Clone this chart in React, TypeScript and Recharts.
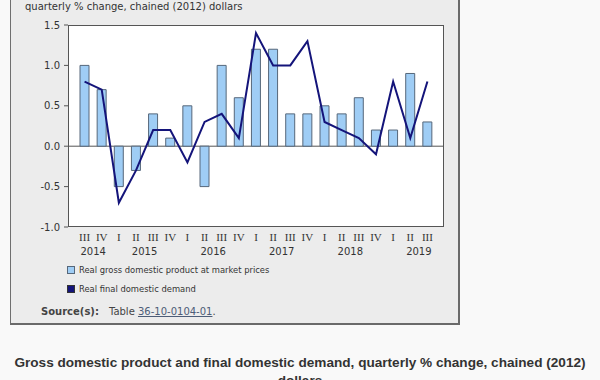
import React from 'react';
import { ComposedChart, Bar, Line, XAxis, YAxis, CartesianGrid } from 'recharts';

const quarters = ['III', 'IV', 'I', 'II', 'III', 'IV', 'I', 'II', 'III', 'IV', 'I', 'II', 'III', 'IV', 'I', 'II', 'III', 'IV', 'I', 'II', 'III'];
const years = ['2014', '2014', '2015', '2015', '2015', '2015', '2016', '2016', '2016', '2016', '2017', '2017', '2017', '2017', '2018', '2018', '2018', '2018', '2019', '2019', '2019'];
const gdp = [1.0, 0.7, -0.5, -0.3, 0.4, 0.1, 0.5, -0.5, 1.0, 0.6, 1.2, 1.2, 0.4, 0.4, 0.5, 0.4, 0.6, 0.2, 0.2, 0.9, 0.3];
const demand = [0.8, 0.7, -0.7, -0.3, 0.2, 0.2, -0.2, 0.3, 0.4, 0.1, 1.4, 1.0, 1.0, 1.3, 0.3, 0.2, 0.1, -0.1, 0.8, 0.1, 0.8];
const yTicks = [-1, -0.5, 0, 0.5, 1, 1.5];

const seriesNames = ['Real gross domestic product at market prices', 'Real final domestic demand'];
const barColor = '#9fcdf5';
const barStroke = '#56677a';
const lineColor = '#14147a';

const data = quarters.map((q, i) => ({
  cat: `${years[i]} ${q}`,
  gdp: gdp[i],
  demand: demand[i],
}));

const sans = '"DejaVu Sans", Verdana, sans-serif';

const QuarterTick = (props: any) => {
  const { x, y, payload } = props;
  const i = payload.index;
  const q = quarters[i];
  const yr = years[i];
  const half = typeof payload.offset === 'number' && payload.offset > 0 ? payload.offset : 8.57;
  const showYear = q === 'II' || (i === 0 && q === 'III');
  return (
    <g>
      <text x={x} y={y + 14} textAnchor="middle" fontFamily='"Liberation Serif", serif' fontSize={11} fill="#333">
        {q}
      </text>
      {showYear && (
        <text x={x + half} y={y + 28} textAnchor="middle" fontFamily={sans} fontSize={10} fill="#333">
          {yr}
        </text>
      )}
    </g>
  );
};

export default function App() {
  return (
    <div style={{ position: 'absolute', left: 0, top: 0, width: 600, height: 380, background: '#f9f9f9', overflow: 'hidden' }}>
      <div
        style={{
          position: 'absolute',
          left: 10,
          top: -6,
          width: 450,
          height: 331,
          boxSizing: 'border-box',
          background: '#ececec',
          borderLeft: '1px solid #6f6f6f',
          borderTop: '1px solid #6f6f6f',
          borderRight: '2px solid #6a6a6a',
          borderBottom: '2px solid #6a6a6a',
        }}
      />
      <div style={{ position: 'absolute', left: 25, top: 0, fontFamily: sans, fontSize: 10, color: '#333', lineHeight: '14px', whiteSpace: 'nowrap' }}>
        quarterly % change, chained (2012) dollars
      </div>
      <div
        style={{
          position: 'absolute',
          left: 68,
          top: 25,
          width: 376,
          height: 202,
          boxSizing: 'border-box',
          background: '#ffffff',
          border: '1px solid #555',
        }}
      />
      <div style={{ position: 'absolute', left: 0, top: 0 }}>
        <ComposedChart width={460} height={262} data={data} margin={{ top: 25, right: 16, bottom: 5, left: 18 }}>
          <CartesianGrid vertical={false} horizontalValues={[0]} stroke="#555" strokeWidth={1} />
          <XAxis
            dataKey="cat"
            interval={0}
            axisLine={false}
            tickLine={false}
            tickSize={0}
            tickMargin={0}
            height={30}
            padding={{ left: 8, right: 8 }}
            tick={<QuarterTick />}
          />
          <YAxis
            domain={[-1, 1.5]}
            ticks={yTicks}
            interval={0}
            width={50}
            axisLine={false}
            tickSize={4}
            tickMargin={4}
            tickLine={{ stroke: '#555' }}
            tickFormatter={(v: number) => v.toFixed(1)}
            tick={{ fontFamily: sans, fontSize: 10, fill: '#333' }}
          />
          <Bar dataKey="gdp" name={seriesNames[0]} barSize={9} fill={barColor} stroke={barStroke} strokeWidth={1} isAnimationActive={false} />
          <Line dataKey="demand" name={seriesNames[1]} type="linear" stroke={lineColor} strokeWidth={2} dot={false} isAnimationActive={false} />
        </ComposedChart>
      </div>
      <div style={{ position: 'absolute', left: 67, top: 266, width: 8, height: 8, boxSizing: 'border-box', background: barColor, border: `1px solid ${barStroke}` }} />
      <div style={{ position: 'absolute', left: 79, top: 263, fontFamily: sans, fontSize: 8.4, color: '#333', lineHeight: '14px', whiteSpace: 'nowrap' }}>
        {seriesNames[0]}
      </div>
      <div style={{ position: 'absolute', left: 67, top: 285, width: 8, height: 8, boxSizing: 'border-box', background: lineColor, border: '1px solid #333' }} />
      <div style={{ position: 'absolute', left: 79, top: 282, fontFamily: sans, fontSize: 8.4, color: '#333', lineHeight: '14px', whiteSpace: 'nowrap' }}>
        {seriesNames[1]}
      </div>
      <div style={{ position: 'absolute', left: 41, top: 305, fontFamily: sans, fontSize: 10, color: '#444', lineHeight: '14px', whiteSpace: 'nowrap' }}>
        <span style={{ fontWeight: 'bold' }}>Source(s):</span>
        <span style={{ marginLeft: 10 }}>Table </span>
        <span style={{ textDecoration: 'underline', color: '#4d5d78' }}>36-10-0104-01</span>
        <span>.</span>
      </div>
      <div
        style={{
          position: 'absolute',
          left: 0,
          top: 354,
          width: 600,
          textAlign: 'center',
          fontFamily: '"Liberation Sans", Arial, sans-serif',
          fontWeight: 'bold',
          fontSize: 13.6,
          color: '#333',
          lineHeight: '18px',
        }}
      >
        Gross domestic product and final domestic demand, quarterly % change, chained (2012)
        <br />
        dollars
      </div>
    </div>
  );
}
